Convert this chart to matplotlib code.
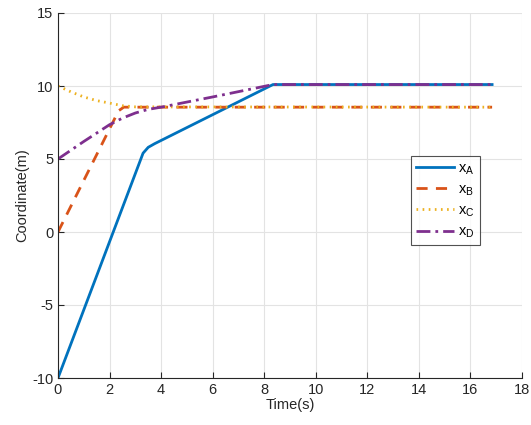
import matplotlib
matplotlib.use("Agg")
import matplotlib.pyplot as plt

plt.rcParams['font.family'] = ['Liberation Sans', 'DejaVu Sans']
plt.rcParams['axes.unicode_minus'] = False

# position traces
t_a = [0, 3.3, 3.5, 3.75, 8.34, 16.84]
x_a = [-10, 5.4, 5.8, 6.05, 10.1, 10.1]

t_b = [0, 2.35, 2.55, 16.84]
x_b = [0, 8.3, 8.55, 8.55]

t_c = [0, 0.5, 1.0, 1.5, 2.0, 2.5, 3.0, 16.84]
x_c = [10, 9.6, 9.25, 9.0, 8.83, 8.65, 8.57, 8.55]

t_d = [0, 1.0, 2.0, 2.5, 3.0, 3.5, 4.0, 6.0, 8.34, 16.84]
x_d = [5, 6.2, 7.35, 7.8, 8.15, 8.4, 8.55, 9.25, 10.1, 10.1]

labels = ['x_A', 'x_B', 'x_C', 'x_D']
x_ticks = list(range(0, 19, 2))
y_ticks = [-10, -5, 0, 5, 10, 15]

fig = plt.figure(figsize=(5.31, 4.25), dpi=100)
ax = fig.add_axes([58 / 531, 1 - 378 / 425, 464 / 531, 365 / 425])

ax.plot(t_a, x_a, color='#0072BD', lw=2, ls='-', label='$\\mathregular{x_A}$')
ax.plot(t_b, x_b, color='#D95319', lw=2, ls=(0, (4, 3)), label='$\\mathregular{x_B}$')
ax.plot(t_c, x_c, color='#EDB120', lw=2, ls=(0, (0.6, 1.6)), label='$\\mathregular{x_C}$')
ax.plot(t_d, x_d, color='#7E2F8E', lw=2, ls=(0, (5, 1.8, 1, 1.8)), label='$\\mathregular{x_D}$')

ax.set_xlim(0, 18)
ax.set_ylim(-10, 15)
ax.set_xticks(x_ticks)
ax.set_yticks(y_ticks)
ax.grid(True, color='#e3e3e3', lw=0.8)
ax.set_axisbelow(True)
for side in ('top', 'right'):
    ax.spines[side].set_visible(False)
for side in ('left', 'bottom'):
    ax.spines[side].set_color('#262626')
    ax.spines[side].set_linewidth(0.8)
ax.tick_params(direction='in', length=4, width=0.8, colors='#262626',
               labelsize=10.5)
ax.set_xlabel('Time(s)', fontsize=10.5, color='#262626', labelpad=1)
ax.set_ylabel('Coordinate(m)', fontsize=10.5, color='#262626', labelpad=2)

leg = ax.legend(loc='upper left', bbox_to_anchor=(353 / 464, (378 - 156) / 365),
                borderaxespad=0, fontsize=10.5, frameon=True, fancybox=False,
                edgecolor='#262626', handlelength=2.6, handletextpad=0.3,
                borderpad=0.35, labelspacing=0.4)
leg.get_frame().set_linewidth(0.8)

fig.savefig('out.png', dpi=100, facecolor='white')
